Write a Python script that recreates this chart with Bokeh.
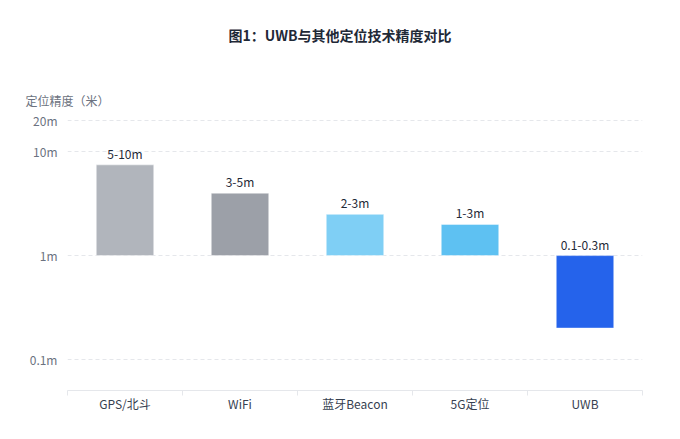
from bokeh.plotting import figure
from bokeh.models import (Range1d, FixedTicker, CustomJSTickFormatter, ColumnDataSource,
                          LabelSet, Title)
from bokeh.embed import file_html
from bokeh.resources import INLINE
from bokeh.core.properties import value

categories = ["GPS/北斗", "WiFi", "蓝牙Beacon", "5G定位", "UWB"]
values = [7.5, 4.0, 2.5, 2.0, 0.2]
labels = ["5-10m", "3-5m", "2-3m", "1-3m", "0.1-0.3m"]
colors = ["#b1b5bc", "#9ca0a8", "#7fcff5", "#5ec1f2", "#2563eb"]
y_ticks = [0.1, 1, 10, 20]
baseline = 1

FONT = "Noto Sans CJK SC"

x = [i + 0.5 for i in range(len(categories))]
label_y = [max(v, baseline) for v in values]
src = ColumnDataSource(dict(x=x, top=values, bottom=[baseline] * len(values),
                            color=colors, label=labels, ly=label_y))

p = figure(width=672, height=431, output_backend="svg", toolbar_location=None,
           title=None,
           y_axis_type="log", x_range=Range1d(0, len(categories)),
           y_range=Range1d(0.05, 21), min_border_left=67, min_border_right=30,
           min_border_top=118, min_border_bottom=41)
p.outline_line_color = None
p.background_fill_color = "white"
p.border_fill_color = "white"

p.vbar(x="x", top="top", bottom="bottom", width=0.5, fill_color="color",
       line_color="white", line_alpha=0.45, line_width=1, source=src)

p.add_layout(LabelSet(x="x", y="ly", text="label", source=src, text_align="center",
                      text_baseline="bottom", y_offset=3, text_font_size=value("12px"),
                      text_color=value("#1f2937"), text_font=value(FONT)))

# y axis
ya = p.yaxis[0]
ya.ticker = FixedTicker(ticks=y_ticks, minor_ticks=[])
ya.formatter = CustomJSTickFormatter(code="return tick + 'm';")
ya.axis_line_color = None
ya.major_tick_line_color = None
ya.major_tick_out = 0
ya.minor_tick_line_color = None
ya.minor_tick_out = 0
ya.major_label_text_font = FONT
ya.major_label_text_font_size = "12px"
ya.major_label_text_color = "#6b7280"
ya.major_label_standoff = 10

# x axis
xa = p.xaxis[0]
xa.ticker = FixedTicker(ticks=x, minor_ticks=list(range(len(categories) + 1)))
xa.formatter = CustomJSTickFormatter(args=dict(labels=categories),
                                     code="return labels[Math.floor(tick)];")
xa.axis_line_color = "#e5e7eb"
xa.major_tick_line_color = None
xa.major_tick_out = 0
xa.minor_tick_line_color = "#e5e7eb"
xa.minor_tick_out = 5
xa.minor_tick_in = 0
xa.major_label_text_font = FONT
xa.major_label_text_font_size = "12px"
xa.major_label_text_color = "#374151"
xa.major_label_standoff = -1

p.xgrid.grid_line_color = None
p.ygrid.grid_line_color = "#e5e7eb"
p.ygrid.grid_line_dash = "4 3"
p.ygrid.minor_grid_line_color = None

p.add_layout(Title(text="定位精度（米）", align="left", offset=-42,
                   text_font=FONT, text_font_size="12px", text_font_style="normal",
                   text_color="#6b7280", standoff=19), "above")
p.add_layout(Title(text="图1：UWB与其他定位技术精度对比\n ", align="left", offset=161,
                   text_font=FONT, text_font_size="14px", text_font_style="bold",
                   text_color="#1f2937", standoff=32), "above")

open("out.html", "w").write(file_html(p, INLINE))
